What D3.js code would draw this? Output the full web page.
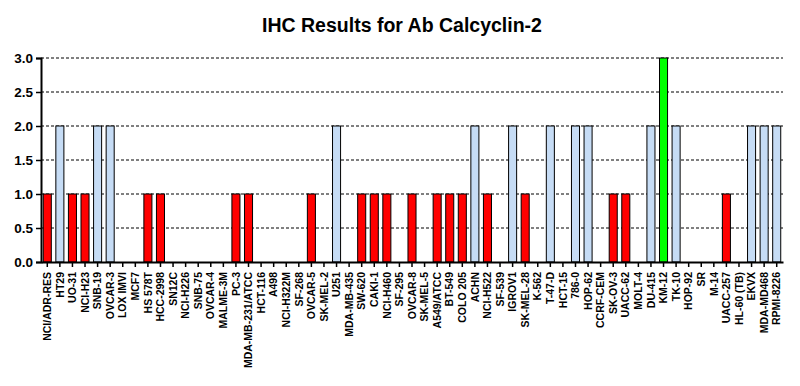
<!DOCTYPE html>
<html><head><meta charset="utf-8">
<script src="https://cdn.jsdelivr.net/npm/d3@7"></script>
<style>body{margin:0;background:#fff}svg{display:block}text{font-family:"Liberation Sans",Arial,sans-serif}</style>
</head><body>
<script>
const categories = ["NCI/ADR-RES","HT29","UO-31","NCI-H23","SNB-19","OVCAR-3","LOX IMVI","MCF7","HS 578T","HCC-2998","SN12C","NCI-H226","SNB-75","OVCAR-4","MALME-3M","PC-3","MDA-MB-231/ATCC","HCT-116","A498","NCI-H322M","SF-268","OVCAR-5","SK-MEL-2","U251","MDA-MB-435","SW-620","CAKI-1","NCI-H460","SF-295","OVCAR-8","SK-MEL-5","A549/ATCC","BT-549","COLO 205","ACHN","NCI-H522","SF-539","IGROV1","SK-MEL-28","K-562","T-47-D","HCT-15","786-0","HOP-62","CCRF-CEM","SK-OV-3","UACC-62","MOLT-4","DU-415","KM-12","TK-10","HOP-92","SR","M-14","UACC-257","HL-60 (TB)","EKVX","MDA-MD468","RPMI-8226"];
const values = [1,2,1,1,2,2,0,0,1,1,0,0,0,0,0,1,1,0,0,0,0,1,0,2,0,1,1,1,0,1,0,1,1,1,2,1,0,2,1,0,2,0,2,2,0,1,1,0,2,3,2,0,0,0,1,0,2,2,2];
const yTicks = [0,0.5,1,1.5,2,2.5,3];
const levelColors = {1:"#FF0000",2:"#C6DCF5",3:"#00FF00"};
const title = "IHC Results for Ab Calcyclin-2";

const W=800,H=386, m={l:41,r:17,t:58,b:124};
const svg=d3.select("body").append("svg").attr("width",W).attr("height",H);
const x=d3.scaleBand().domain(categories).range([m.l,W-m.r]).paddingInner(0.36).paddingOuter(0.18);
const y=d3.scaleLinear().domain([0,3]).range([H-m.b,m.t]);

svg.append("text").attr("x",402).attr("y",32).attr("text-anchor","middle")
  .attr("font-size",19.5).attr("font-weight","bold").text(title);

// grid
svg.append("g").selectAll("line").data(yTicks.filter(d=>d>0)).join("line")
  .attr("x1",m.l).attr("x2",W-m.r).attr("y1",d=>y(d)).attr("y2",d=>y(d))
  .attr("stroke","#000").attr("stroke-width",1).attr("stroke-dasharray","3,2");

// bars
svg.append("g").selectAll("rect").data(categories.map((c,i)=>({c,v:values[i]})).filter(d=>d.v>0)).join("rect")
  .attr("x",d=>x(d.c)).attr("width",x.bandwidth()).attr("y",d=>y(d.v)).attr("height",d=>y(0)-y(d.v))
  .attr("fill",d=>levelColors[d.v]).attr("stroke","#000").attr("stroke-width",1);

// y axis
const ya=svg.append("g").attr("transform",`translate(${m.l},0)`)
  .call(d3.axisLeft(y).tickValues(yTicks).tickFormat(d3.format(".1f")).tickSize(5).tickPadding(3));
ya.select(".domain").attr("stroke-width",2);
ya.selectAll("text").attr("font-size",13.5).attr("font-weight","bold").attr("fill","#000").style("font-family","Liberation Sans, Arial");
ya.selectAll(".tick line").attr("stroke-width",1.5);

// x axis
const xa=svg.append("g").attr("transform",`translate(0,${H-m.b})`)
  .call(d3.axisBottom(x).tickSize(5).tickSizeOuter(0).tickPadding(3));
xa.select(".domain").attr("stroke-width",2);
xa.selectAll(".tick line").attr("stroke-width",1.5);
xa.selectAll("text").attr("font-size",10.5).attr("font-weight","bold").attr("fill","#000")
  .style("font-family","Liberation Sans, Arial")
  .attr("transform","rotate(-90)").attr("text-anchor","end").attr("dy","0.35em").attr("x",-10).attr("y",0);
</script>
</body></html>
